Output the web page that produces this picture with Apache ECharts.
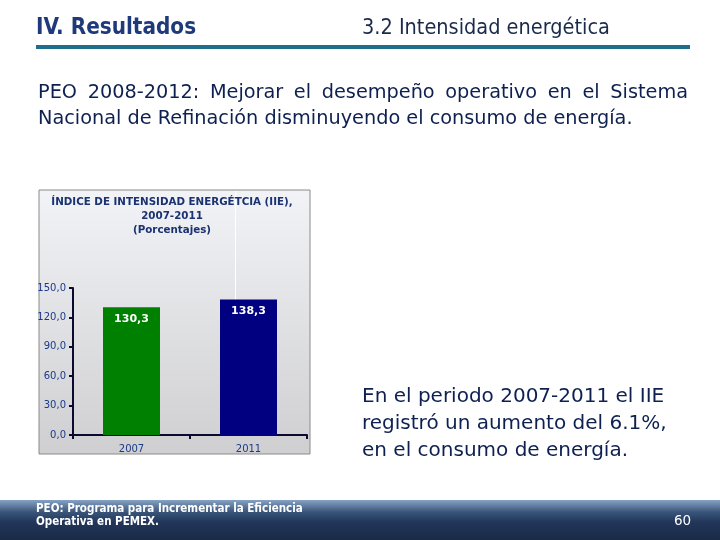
<!DOCTYPE html>
<html><head><meta charset="utf-8">
<script src="https://cdn.jsdelivr.net/npm/echarts@6/dist/echarts.min.js"></script>
<style>html,body{margin:0;padding:0;background:#fff}#c{width:720px;height:540px}</style>
</head><body><div id="c"></div>
<script>
const categories = ['2007', '2011'];
const values = [130.3, 138.3];
const barColors = ['#008000', '#000080'];
const yTicks = { min: 0, max: 150, interval: 30 };

const chart = echarts.init(document.getElementById('c'), null, { renderer: 'canvas' });
const F = '"DejaVu Sans", Verdana, sans-serif';
const FC = '"DejaVu Sans Condensed", "DejaVu Sans", sans-serif';
const TXT = '#0d2050';

// justified body line
const bodyLine1 = 'PEO 2008-2012: Mejorar el desempeño operativo en el Sistema';
const bodyLine2 = 'Nacional de Refinación disminuyendo el consumo de energía.';
const bodySize = 19.3;
const mctx = document.createElement('canvas').getContext('2d');
mctx.font = bodySize + 'px ' + F;
const words = bodyLine1.split(' ');
const wWidths = words.map(w => mctx.measureText(w).width);
const totalW = wWidths.reduce((a, b) => a + b, 0);
const x0 = 38, x1 = 688;
const gap = (x1 - x0 - totalW) / (words.length - 1);
const justified = [];
let cx = x0;
words.forEach((w, i) => {
  justified.push({ type: 'text', x: cx, y: 83, style: { text: w, fontFamily: F, fontSize: bodySize, fill: TXT } });
  cx += wWidths[i] + gap;
});

chart.setOption({
  animation: false,
  backgroundColor: '#ffffff',
  title: {
    text: 'ÍNDICE DE INTENSIDAD ENERGÉTCIA (IIE),\n2007-2011\n(Porcentajes)',
    left: 167, top: 190, textAlign: 'center',
    textStyle: { fontFamily: F, fontSize: 10.3, fontWeight: 'bold', color: '#1a3272', lineHeight: 14, align: 'center' }
  },
  grid: { left: 73, right: 413, top: 288, bottom: 105 },
  xAxis: {
    type: 'category', data: categories,
    axisLine: { lineStyle: { color: '#0a0a30', width: 2 } },
    axisTick: { show: true, length: 4, lineStyle: { color: '#0a0a30', width: 2 } },
    axisLabel: { fontFamily: F, fontSize: 10, color: '#1a3a8a', margin: 9 },
    splitLine: { show: false }
  },
  yAxis: {
    type: 'value', min: yTicks.min, max: yTicks.max, interval: yTicks.interval,
    axisLine: { show: true, lineStyle: { color: '#0a0a30', width: 2 } },
    axisTick: { show: true, length: 4, lineStyle: { color: '#0a0a30', width: 2 } },
    axisLabel: { fontFamily: F, fontSize: 10, color: '#1a3a8a', margin: 7,
      formatter: v => v.toFixed(1).replace('.', ',') },
    splitLine: { show: false }
  },
  series: [{
    type: 'bar', barWidth: 57,
    data: values.map((v, i) => ({ value: v, itemStyle: { color: barColors[i] } })),
    label: { show: true, position: 'insideTop', distance: 6, color: '#ffffff', fontFamily: F,
      fontSize: 11, fontWeight: 'bold', formatter: p => p.value.toFixed(1).replace('.', ',') },
    z: 3
  }],
  graphic: [
    { type: 'rect', z: -10, silent: true, shape: { x: 39, y: 190, width: 271, height: 264 },
      style: { fill: new echarts.graphic.LinearGradient(0, 0, 0, 1, [
        { offset: 0, color: '#f2f3f6' }, { offset: 1, color: '#cfcfd2' }]),
        stroke: '#8a8a8a', lineWidth: 1 } },
    { type: 'line', z: -5, silent: true, shape: { x1: 235.5, y1: 191, x2: 235.5, y2: 300 },
      style: { stroke: '#ffffff', lineWidth: 1 } },
    { type: 'text', left: 36, top: 17, style: { text: 'IV. Resultados', fontFamily: FC, fontSize: 22.3,
      fontWeight: 'bold', fill: '#1f3a7a' } },
    { type: 'text', left: 362, top: 17, style: { text: '3.2 Intensidad energética', fontFamily: FC,
      fontSize: 21.5, fill: '#1a2a4a' } },
    { type: 'rect', shape: { x: 36, y: 45, width: 654, height: 4 }, style: { fill: '#1f6f8b' } },
    ...justified,
    { type: 'text', x: 38, y: 109, style: { text: bodyLine2, fontFamily: F, fontSize: bodySize, fill: TXT } },
    { type: 'text', left: 362, top: 383, style: { text: 'En el periodo 2007-2011 el IIE\nregistró un aumento del 6.1%,\nen el consumo de energía.',
      fontFamily: F, fontSize: 20, lineHeight: 27, fill: TXT } },
    { type: 'rect', shape: { x: 0, y: 500, width: 720, height: 40 },
      style: { fill: new echarts.graphic.LinearGradient(0, 0, 0, 1, [
        { offset: 0, color: '#86a2c4' }, { offset: 0.3, color: '#3a557a' }, { offset: 0.55, color: '#22365a' }, { offset: 1, color: '#1a2a46' }]) } },
    { type: 'text', left: 36, top: 502, style: { text: 'PEO: Programa para Incrementar la Eficiencia\nOperativa en PEMEX.',
      fontFamily: FC, fontSize: 11.5, fontWeight: 'bold', lineHeight: 13.5, fill: '#ffffff' } },
    { type: 'text', left: 674, top: 514, style: { text: '60', fontFamily: F, fontSize: 13.5, fill: '#ffffff' } }
  ]
});
</script></body></html>
